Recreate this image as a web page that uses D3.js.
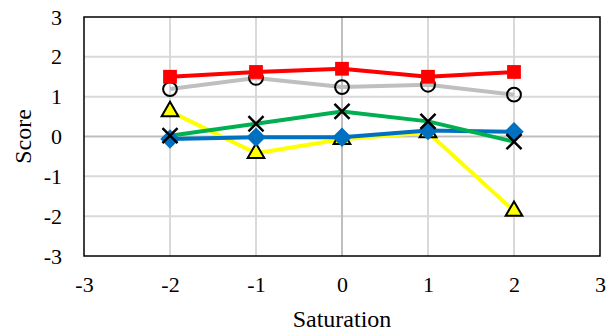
<!DOCTYPE html>
<html>
<head>
<meta charset="utf-8">
<script src="https://cdn.jsdelivr.net/npm/d3@7"></script>
<style>
  body { margin: 0; background: #fff; }
  text { font-family: "Liberation Serif", "Times New Roman", serif; fill: #000; }
</style>
</head>
<body>
<div id="chart"></div>
<script>
// chart values
const saturation = [-2, -1, 0, 1, 2];
const redSquare = [1.5, 1.62, 1.7, 1.5, 1.62];
const greyCircle = [1.19, 1.47, 1.24, 1.3, 1.05];
const yellowTriangle = [0.63, -0.42, -0.07, 0.1, -1.87];
const greenCross = [0.02, 0.32, 0.63, 0.38, -0.13];
const blueDiamond = [-0.06, -0.02, -0.02, 0.15, 0.12];
const tickValues = [-3, -2, -1, 0, 1, 2, 3];

const series = [
    { name: "grey", values: greyCircle, color: "#bfbfbf", marker: "circle" },
    { name: "red", values: redSquare, color: "#ff0000", marker: "square" },
    { name: "yellow", values: yellowTriangle, color: "#ffff00", marker: "triangle" },
    { name: "blue", values: blueDiamond, color: "#0070c0", marker: "diamond" },
    { name: "green", values: greenCross, color: "#00b050", marker: "cross" }
];

const width = 607, height = 335;
const margin = { left: 84, right: 7, top: 17, bottom: 79 };

const svg = d3.select("#chart").append("svg")
    .attr("width", width)
    .attr("height", height);

const x = d3.scaleLinear().domain([-3, 3]).range([margin.left, width - margin.right]);
const y = d3.scaleLinear().domain([-3, 3]).range([height - margin.bottom, margin.top]);

const fmt = d => String(d); // plain hyphen minus like the original

// gridlines
svg.append("g").selectAll("line")
    .data(tickValues.slice(1, -1))
    .enter().append("line")
    .attr("x1", x(-3)).attr("x2", x(3))
    .attr("y1", d => y(d)).attr("y2", d => y(d))
    .attr("stroke", d => d === 0 ? "#bfbfbf" : "#d9d9d9")
    .attr("stroke-width", 2);

svg.append("g").selectAll("line")
    .data(tickValues.slice(1, -1))
    .enter().append("line")
    .attr("y1", y(-3)).attr("y2", y(3))
    .attr("x1", d => x(d)).attr("x2", d => x(d))
    .attr("stroke", d => d === 0 ? "#bfbfbf" : "#d9d9d9")
    .attr("stroke-width", 2);

// plot border
svg.append("rect")
    .attr("x", x(-3)).attr("y", y(3))
    .attr("width", x(3) - x(-3)).attr("height", y(-3) - y(3))
    .attr("fill", "none")
    .attr("stroke", "#000")
    .attr("stroke-width", 1.5);

// axes labels (no tick marks)
const yAxis = d3.axisLeft(y).tickValues(tickValues).tickSize(0).tickPadding(22).tickFormat(fmt);
svg.append("g")
    .attr("transform", `translate(${x(-3)},0)`)
    .call(yAxis)
    .call(g => g.select(".domain").remove())
    .attr("font-family", null)
    .selectAll("text")
    .style("font-size", "22px");

const xAxis = d3.axisBottom(x).tickValues(tickValues).tickSize(0).tickPadding(20).tickFormat(fmt);
svg.append("g")
    .attr("transform", `translate(0,${y(-3)})`)
    .call(xAxis)
    .call(g => g.select(".domain").remove())
    .attr("font-family", null)
    .selectAll("text")
    .style("font-size", "22px");

svg.append("text")
    .attr("x", (x(-3) + x(3)) / 2)
    .attr("y", 327)
    .attr("text-anchor", "middle")
    .style("font-size", "24px")
    .text("Saturation");

svg.append("text")
    .attr("transform", `translate(31,${y(0)}) rotate(-90)`)
    .attr("text-anchor", "middle")
    .style("font-size", "24px")
    .text("Score");

// lines
const line = d3.line().x((d, i) => x(saturation[i])).y(d => y(d));

svg.append("g").selectAll("path")
    .data(series)
    .enter().append("path")
    .attr("d", d => line(d.values))
    .attr("fill", "none")
    .attr("stroke", d => d.color)
    .attr("stroke-width", 4)
    .attr("stroke-linejoin", "round");

// square diamond like the spreadsheet marker
const squareDiamond = {
    draw(ctx, size) {
        const r = Math.sqrt(size / 2);
        ctx.moveTo(0, -r); ctx.lineTo(r, 0); ctx.lineTo(0, r); ctx.lineTo(-r, 0); ctx.closePath();
    }
};

const symbolFor = {
    circle: d3.symbol().type(d3.symbolCircle).size(150),
    square: d3.symbol().type(d3.symbolSquare).size(190),
    triangle: d3.symbol().type(d3.symbolTriangle).size(120),
    diamond: d3.symbol().type(squareDiamond).size(190),
    cross: d3.symbol().type(d3.symbolX).size(150)
};

series.forEach(s => {
    const g = svg.append("g");
    g.selectAll("path")
        .data(s.values)
        .enter().append("path")
        .attr("transform", (d, i) => `translate(${x(saturation[i])},${y(d)})`)
        .attr("d", symbolFor[s.marker]())
        .attr("fill", s.marker === "circle" || s.marker === "cross" ? "none" : s.color)
        .attr("stroke", s.marker === "square" || s.marker === "diamond" ? "none" : "#000")
        .attr("stroke-width", s.marker === "cross" ? 2.5 : 2);
});
</script>
</body>
</html>
